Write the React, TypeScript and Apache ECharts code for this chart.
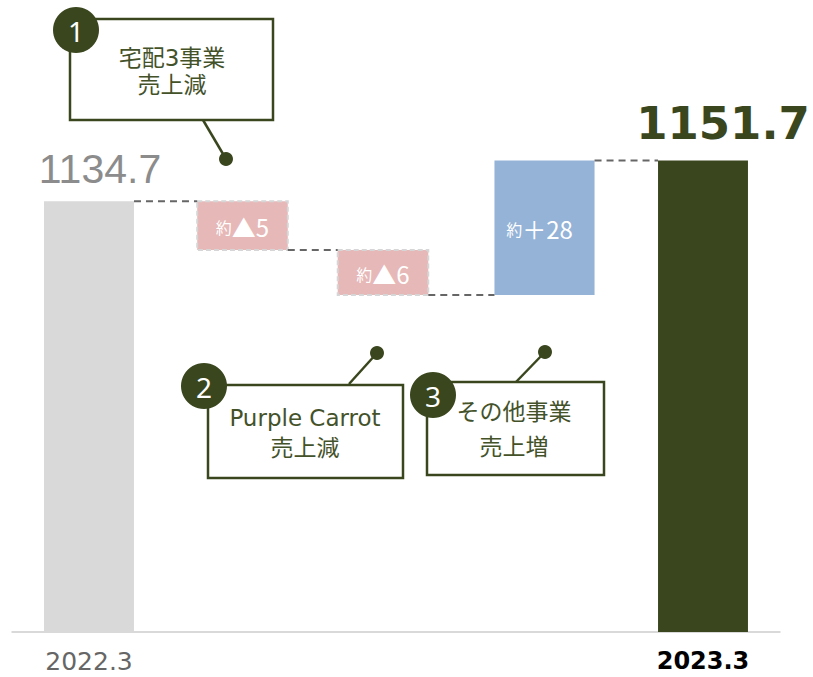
import React, { useEffect, useRef } from 'react';
import * as echarts from 'echarts';

// ---- data ----
const categories = ['2022.3', '宅配3事業', 'Purple Carrot', 'その他事業', '2023.3'];
const axisLabels = ['2022.3', '', '', '', '2023.3'];
const startValue = 1134.7;
const endValue = 1151.7;
const stepLabels = ['約▲5', '約▲6', '約＋28'];
// step heights as drawn on the picture (schematic, in axis units)
const stepDrawn = [-20.2, -18.7, 55.9];

// ---- styles (not data) ----
const Y_MIN = 956;
const Y_MAX = 1200;
const DARK = '#3a471e';
const TEXT_DARK = '#44522a';
const widthRatio = [0.586, 0.59, 0.59, 0.652, 0.586];
const xNudge = [0, 0, -13, -5, 0];
const fills = ['#d9d9d9', '#e6b8b7', '#e6b8b7', '#95b3d7', DARK];

function buildRows() {
  const rows: number[][] = [];
  rows.push([0, Y_MIN, startValue, 0]);
  let level = startValue;
  stepDrawn.forEach((d, k) => {
    const next = level + d;
    rows.push([k + 1, Math.min(level, next), Math.max(level, next), level]);
    level = next;
  });
  rows.push([categories.length - 1, Y_MIN, endValue, level]);
  return rows;
}

export default function App() {
  const ref = useRef<HTMLDivElement>(null);
  useEffect(() => {
    if (!ref.current) return;
    const chart = echarts.init(ref.current, null, { renderer: 'svg' });
    const rows = buildRows();
    const last = categories.length - 1;

    const renderItem = (params: any, api: any) => {
      const i = api.value(0);
      const low = api.value(1);
      const high = api.value(2);
      const conn = api.value(3);
      const band = api.size([1, 0])[0];
      const w = band * widthRatio[i];
      const pLow = api.coord([i, low]);
      const pHigh = api.coord([i, high]);
      const cx = pLow[0] + xNudge[i];
      const x = cx - w / 2;
      const children: any[] = [];
      const isStep = i > 0 && i < last;
      children.push({
        type: 'rect',
        shape: { x, y: pHigh[1], width: w, height: pLow[1] - pHigh[1] },
        style: isStep && stepDrawn[i - 1] < 0
          ? { fill: fills[i], stroke: '#d6d6d6', lineWidth: 2, lineDash: [5, 3] }
          : { fill: fills[i] },
      });
      if (i > 0) {
        const prev = api.coord([i - 1, conn]);
        const prevW = band * widthRatio[i - 1];
        children.push({
          type: 'line',
          shape: { x1: prev[0] + xNudge[i - 1] + prevW / 2, y1: prev[1], x2: x, y2: prev[1] },
          style: { stroke: '#666666', lineWidth: 2, lineDash: [7, 5] },
          z2: 5,
        });
      }
      if (isStep) {
        const lab = stepLabels[i - 1];
        children.push({
          type: 'text',
          x: cx - (i === 3 ? 5 : 0),
          y: (pLow[1] + pHigh[1]) / 2 + 1,
          style: {
            text: '{a|' + lab.slice(0, 1) + '}{b|' + lab.slice(1) + '}',
            align: 'center',
            verticalAlign: 'middle',
            rich: {
              a: { fontSize: 16, fill: '#ffffff', fontFamily: 'Noto Sans CJK JP' },
              b: { fontSize: 24, fill: '#ffffff', fontFamily: 'Noto Sans CJK JP' },
            },
          },
          z2: 10,
        });
      } else {
        const first = i === 0;
        children.push({
          type: 'text',
          x: cx + (first ? 11 : 20),
          y: pHigh[1] - (first ? 32.5 : 37),
          style: {
            text: (first ? startValue : endValue).toFixed(1),
            align: 'center',
            verticalAlign: 'middle',
            fontSize: first ? 41 : 45,
            fontWeight: first ? 'normal' : 'bold',
            fontFamily: first ? 'Liberation Sans' : 'DejaVu Sans',
            fill: first ? '#8c8c8c' : DARK,
          },
          z2: 10,
        });
      }
      return { type: 'group', children };
    };

    const callout = (
      num: string,
      box: [number, number, number, number],
      circle: [number, number],
      lines: string[],
      textCx: number,
      textYs: number[],
      leader: [number, number, number, number],
    ) => {
      const els: any[] = [];
      els.push({
        type: 'line',
        shape: { x1: leader[0], y1: leader[1], x2: leader[2], y2: leader[3] },
        style: { stroke: DARK, lineWidth: 2.5 },
        z: 10,
      });
      els.push({
        type: 'circle',
        shape: { cx: leader[2], cy: leader[3], r: 7 },
        style: { fill: DARK },
        z: 10,
      });
      els.push({
        type: 'rect',
        shape: { x: box[0], y: box[1], width: box[2], height: box[3] },
        style: { fill: '#ffffff', stroke: DARK, lineWidth: 2.5 },
        z: 11,
      });
      lines.forEach((t, k) => {
        els.push({
          type: 'text',
          x: textCx,
          y: textYs[k],
          style: {
            text: t,
            align: 'center',
            verticalAlign: 'middle',
            fontSize: 23,
            fontFamily: 'DejaVu Sans, Noto Sans CJK JP',
            fill: TEXT_DARK,
          },
          z: 12,
        });
      });
      els.push({
        type: 'circle',
        shape: { cx: circle[0], cy: circle[1], r: 23 },
        style: { fill: DARK },
        z: 13,
      });
      els.push({
        type: 'text',
        x: circle[0],
        y: circle[1] + 1,
        style: {
          text: num,
          align: 'center',
          verticalAlign: 'middle',
          fontSize: 28,
          fontFamily: 'Noto Sans',
          fill: '#ffffff',
        },
        z: 14,
      });
      return els;
    };

    const graphics = [
      ...callout('1', [70, 19, 203, 101], [76, 30], ['宅配3事業', '売上減'], 172, [58, 85], [203, 120, 226, 159]),
      ...callout('2', [208, 385, 195, 93], [204, 386], ['Purple Carrot', '売上減'], 305, [418, 448], [349, 384, 377, 353]),
      ...callout('3', [427, 382, 177, 93], [433, 395], ['その他事業', '売上増'], 514, [412, 447], [516, 382, 545, 352]),
    ];

    chart.setOption({
      animation: false,
      grid: { left: 12.25, right: 33.25, top: 44, bottom: 45 },
      xAxis: {
        type: 'category',
        data: categories,
        axisLine: { show: true, lineStyle: { color: '#d9d9d9', width: 2 } },
        axisTick: { show: false },
        axisLabel: {
          interval: 0,
          margin: 17,
          formatter: (_v: string, idx: number) => {
            const t = axisLabels[idx];
            if (!t) return '';
            return idx === 0 ? '{a|' + t + '}' : '{b|' + t + '}';
          },
          rich: {
            a: { fontSize: 25, fontFamily: 'DejaVu Sans', color: '#666666' },
            b: { fontSize: 24, fontFamily: 'DejaVu Sans', fontWeight: 'bold', color: '#000000' },
          },
        },
      },
      yAxis: {
        type: 'value',
        min: Y_MIN,
        max: Y_MAX,
        show: false,
        splitLine: { show: false },
      },
      series: [
        {
          type: 'custom',
          renderItem,
          clip: false,
          data: rows,
          encode: { x: 0, y: [1, 2] },
          z: 3,
        },
      ],
      graphic: graphics,
    });
    return () => chart.dispose();
  }, []);

  return (
    <div
      ref={ref}
      style={{ position: 'fixed', left: 0, top: 0, width: 813, height: 677, background: '#ffffff' }}
    />
  );
}
